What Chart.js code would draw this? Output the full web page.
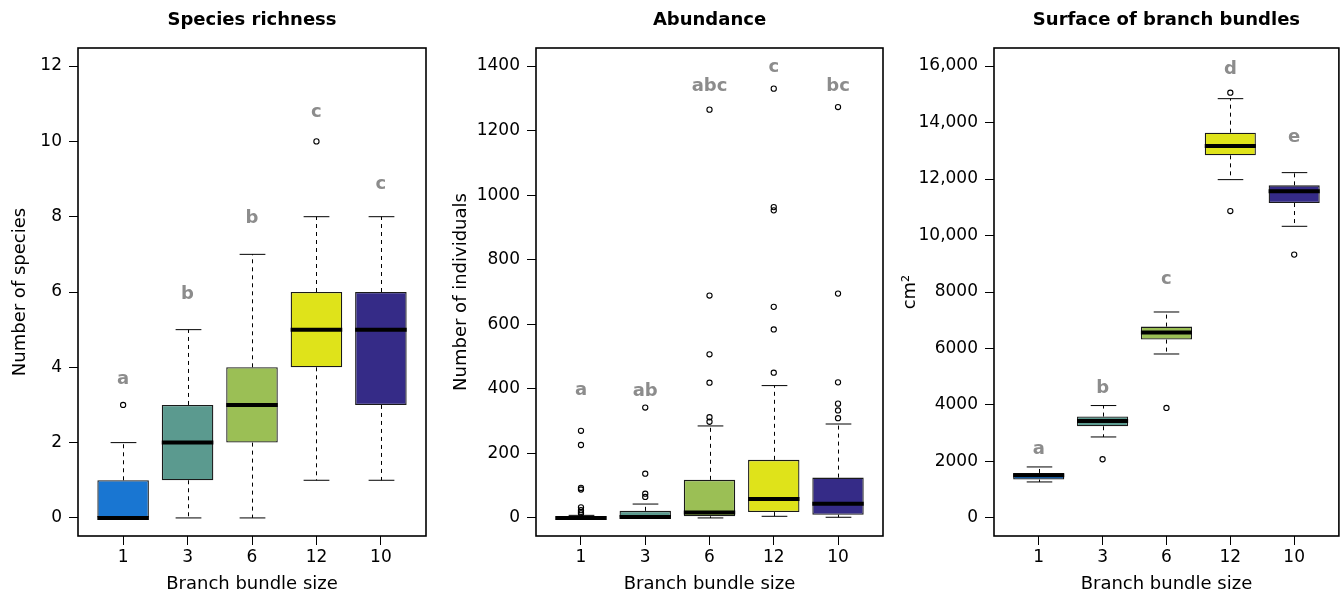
<!DOCTYPE html>
<html><head><meta charset="utf-8">
<script src="https://cdn.jsdelivr.net/npm/chart.js@4.4.1/dist/chart.umd.min.js"></script>
<style>
html,body{margin:0;padding:0;background:#fff;}
#wrap{position:relative;width:1344px;height:596px;background:#fff;}
.panel{position:absolute;top:0;width:448px;height:596px;}
canvas{display:block;}
</style></head><body>
<div id="wrap">
<div class="panel" style="left:0px"><canvas id="c1" width="448" height="596"></canvas></div>
<div class="panel" style="left:448px"><canvas id="c2" width="448" height="596"></canvas></div>
<div class="panel" style="left:896px"><canvas id="c3" width="448" height="596"></canvas></div>
</div>
<script>
// ---- data ----
const categories = ['1', '3', '6', '12', '10'];
const boxColors = ['#1976d2', '#5b9a8f', '#9bbf55', '#dfe31a', '#352b87'];

// Species richness
const richLow  = [0, 0, 0, 1, 1];
const richQ1   = [0, 1, 2, 4, 3];
const richMed  = [0, 2, 3, 5, 5];
const richQ3   = [1, 3, 4, 6, 6];
const richHigh = [2, 5, 7, 8, 8];
const richOut  = [[3], [], [], [10], []];
const richLetters = ['a', 'b', 'b', 'c', 'c'];
const richLetterY = [3.55, 5.81, 7.82, 10.64, 8.74];
const richTicks = [0, 2, 4, 6, 8, 10, 12];
const richTickLabels = ['0', '2', '4', '6', '8', '10', '12'];

// Abundance
const abLow  = [0, 0, 0, 5, 2];
const abQ1   = [0, 0, 5, 18, 10];
const abMed  = [0, 3, 17, 59, 44];
const abQ3   = [2, 22, 118, 180, 125];
const abHigh = [8, 43, 285, 410, 291];
const abOut  = [
  [270, 226, 93, 88, 33, 24, 18, 14],
  [342, 137, 75, 65],
  [1265, 689, 507, 419, 312, 298],
  [1330, 963, 953, 654, 584, 450],
  [1273, 695, 420, 354, 333, 309]
];
const abLetters = ['a', 'ab', 'abc', 'c', 'bc'];
const abLetterY = [380, 377, 1324, 1383, 1324];
const abTicks = [0, 200, 400, 600, 800, 1000, 1200, 1400];
const abTickLabels = ['0', '200', '400', '600', '800', '1000', '1200', '1400'];

// Surface of branch bundles
const sfLow  = [1274, 2867, 5805, 11979, 10326];
const sfQ1   = [1359, 3246, 6315, 12839, 11150];
const sfMed  = [1511, 3434, 6563, 13168, 11565];
const sfQ3   = [1593, 3589, 6775, 13642, 11777];
const sfHigh = [1805, 3979, 7292, 14846, 12227];
const sfOut  = [[], [2078], [3894], [15058, 10867], [9324]];
const sfLetters = ['a', 'b', 'c', 'd', 'e'];
const sfLetterY = [2280, 4425, 8297, 15731, 13310];
const sfTicks = [0, 2000, 4000, 6000, 8000, 10000, 12000, 14000, 16000];
const sfTickLabels = ['0', '2000', '4000', '6000', '8000', '10,000', '12,000', '14,000', '16,000'];

const xTicks = [1, 2, 3, 4, 5];

// ---- drawing ----
const FONT = '"DejaVu Sans", "Liberation Sans", Arial, sans-serif';

function makeChart(id, o) {
  const boxPlugin = {
    id: 'boxparts',
    beforeDatasetsDraw(chart) {
      const ctx = chart.ctx, xs = chart.scales.x, ys = chart.scales.y;
      const meta = chart.getDatasetMeta(1);
      ctx.save();
      ctx.strokeStyle = '#000';
      ctx.lineWidth = 1;
      categories.forEach((c, i) => {
        const el = meta.data[i];
        const x = Math.round(xs.getPixelForValue(xTicks[i])) + 0.5;
        const half = el.width / 4;
        const yLow = ys.getPixelForValue(o.low[i]);
        const yHigh = ys.getPixelForValue(o.high[i]);
        const yQ1 = ys.getPixelForValue(o.q1[i]);
        const yQ3 = ys.getPixelForValue(o.q3[i]);
        ctx.setLineDash([4, 4]);
        ctx.beginPath();
        ctx.moveTo(x, yQ3); ctx.lineTo(x, yHigh);
        if (o.low[i] < o.q1[i]) { ctx.moveTo(x, yQ1); ctx.lineTo(x, yLow); }
        ctx.stroke();
        ctx.setLineDash([]);
        ctx.beginPath();
        ctx.moveTo(x - half, yHigh); ctx.lineTo(x + half, yHigh);
        ctx.moveTo(x - half, yLow); ctx.lineTo(x + half, yLow);
        ctx.stroke();
      });
      ctx.restore();
    },
    afterDatasetsDraw(chart) {
      const ctx = chart.ctx, xs = chart.scales.x, ys = chart.scales.y;
      const meta = chart.getDatasetMeta(1);
      const a = chart.chartArea;
      ctx.save();
      ctx.strokeStyle = '#000';
      ctx.lineWidth = 4;
      ctx.lineCap = 'butt';
      categories.forEach((c, i) => {
        const el = meta.data[i];
        const x = xs.getPixelForValue(xTicks[i]);
        const y = ys.getPixelForValue(o.med[i]);
        ctx.beginPath();
        ctx.moveTo(x - el.width / 2, y); ctx.lineTo(x + el.width / 2, y);
        ctx.stroke();
      });
      // letters
      ctx.fillStyle = '#8c8c8c';
      ctx.font = 'bold 18px ' + FONT;
      ctx.textAlign = 'center';
      ctx.textBaseline = 'alphabetic';
      categories.forEach((c, i) => {
        ctx.fillText(o.letters[i], xs.getPixelForValue(xTicks[i]), ys.getPixelForValue(o.letterY[i]));
      });
      // frame
      ctx.lineWidth = 1.6;
      ctx.strokeStyle = '#000';
      ctx.strokeRect(a.left, a.top, a.right - a.left, a.bottom - a.top);
      ctx.restore();
    }
  };

  const outPts = [];
  o.out.forEach((arr, i) => arr.forEach(v => outPts.push({ x: xTicks[i], y: v })));

  return new Chart(document.getElementById(id), {
    type: 'bar',
    data: {
      datasets: [
        {
          type: 'scatter',
          data: outPts,
          pointRadius: 2.6,
          pointBorderWidth: 1.1,
          pointBorderColor: '#000',
          pointBackgroundColor: 'rgba(0,0,0,0)',
          showLine: false
        },
        {
          type: 'bar',
          data: categories.map((c, i) => ({ x: xTicks[i], y: [o.q1[i], o.q3[i]] })),
          backgroundColor: boxColors,
          borderColor: '#1a1a1a',
          borderWidth: 1.3,
          borderSkipped: false,
          barPercentage: 0.8,
          categoryPercentage: 1
        }
      ]
    },
    options: {
      responsive: false,
      animation: false,
      devicePixelRatio: 1,
      events: [],
      layout: { padding: { left: 0, right: o.padRight, top: 0, bottom: 0 } },
      plugins: {
        legend: { display: false },
        tooltip: { enabled: false },
        title: {
          display: true, text: o.title, fullSize: false, color: '#000',
          font: { family: FONT, size: 18, weight: 'bold' },
          padding: { top: 10, bottom: 16.4 }
        }
      },
      scales: {
        x: {
          type: 'linear', min: 0.3, max: 5.7, offset: false,
          afterBuildTicks: s => { s.ticks = xTicks.map(v => ({ value: v })); },
          afterFit: s => { s.height = 60; },
          ticks: { callback: (v, i) => categories[i], color: '#000', font: { family: FONT, size: 17 }, padding: 2, maxRotation: 0, autoSkip: false },
          grid: { display: true, offset: false, drawOnChartArea: false, drawTicks: true, tickLength: 9, color: '#000', lineWidth: 1 },
          border: { display: false },
          title: { display: true, text: 'Branch bundle size', color: '#000', font: { family: FONT, size: 18 }, padding: { top: 0, bottom: 1 } }
        },
        y: {
          type: 'linear', min: o.yMin, max: o.yMax,
          afterBuildTicks: s => { s.ticks = o.ticks.map(v => ({ value: v })); },
          afterFit: s => { s.width = o.left; },
          ticks: { callback: (v, i) => o.tickLabels[i], color: '#000', font: { family: FONT, size: 17 }, padding: 7, autoSkip: false },
          grid: { display: true, drawOnChartArea: false, drawTicks: true, tickLength: 9, color: '#000', lineWidth: 1 },
          border: { display: false },
          title: { display: true, text: o.yTitle, color: '#000', font: { family: FONT, size: 18 }, padding: { top: o.yTitlePad, bottom: 0 } }
        }
      }
    },
    plugins: [boxPlugin]
  });
}

makeChart('c1', {
  title: 'Species richness', yTitle: 'Number of species',
  low: richLow, q1: richQ1, med: richMed, q3: richQ3, high: richHigh, out: richOut,
  letters: richLetters, letterY: richLetterY, ticks: richTicks, tickLabels: richTickLabels,
  yMin: -0.48, yMax: 12.48, left: 78, padRight: 22, yTitlePad: 9.6
});
makeChart('c2', {
  title: 'Abundance', yTitle: 'Number of individuals',
  low: abLow, q1: abQ1, med: abMed, q3: abQ3, high: abHigh, out: abOut,
  letters: abLetters, letterY: abLetterY, ticks: abTicks, tickLabels: abTickLabels,
  yMin: -56, yMax: 1456, left: 88, padRight: 13, yTitlePad: 2.6
});
makeChart('c3', {
  title: 'Surface of branch bundles', yTitle: 'cm²',
  low: sfLow, q1: sfQ1, med: sfMed, q3: sfQ3, high: sfHigh, out: sfOut,
  letters: sfLetters, letterY: sfLetterY, ticks: sfTicks, tickLabels: sfTickLabels,
  yMin: -640, yMax: 16640, left: 98, padRight: 3, yTitlePad: 3.6
});
</script>
</body></html>
